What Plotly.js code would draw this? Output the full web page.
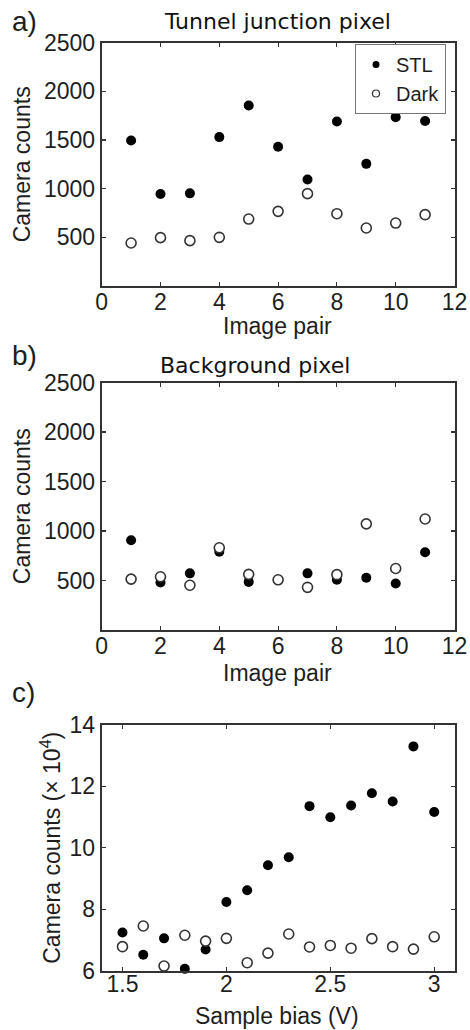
<!DOCTYPE html>
<html>
<head>
<meta charset="utf-8">
<script src="https://cdn.plot.ly/plotly-3.0.1.min.js"></script>
<style>html,body{margin:0;padding:0;background:#fff;}#chart{width:470px;height:1030px;}</style>
</head>
<body>
<div id="chart"></div>
<script>
// ---- data ----
const imagePair = [1, 2, 3, 4, 5, 6, 7, 8, 9, 10, 11];
const tunnelSTL  = [1495, 945, 952, 1530, 1855, 1430, 1095, 1690, 1255, 1735, 1695];
const tunnelDark = [442, 497, 466, 500, 688, 767, 949, 743, 596, 647, 733];
const backgroundSTL  = [907, 479, 572, 790, 486, 505, 572, 507, 528, 469, 786];
const backgroundDark = [514, 538, 452, 831, 562, 507, 431, 559, 1072, 621, 1121];
const sampleBias = [1.5, 1.6, 1.7, 1.8, 1.9, 2.0, 2.1, 2.2, 2.3, 2.4, 2.5, 2.6, 2.7, 2.8, 2.9, 3.0];
const biasSTL  = [7.25, 6.53, 7.06, 6.07, 6.70, 8.24, 8.62, 9.43, 9.69, 11.35, 10.99, 11.37, 11.77, 11.50, 13.29, 11.16];
const biasDark = [6.79, 7.46, 6.16, 7.16, 6.97, 7.06, 6.27, 6.58, 7.20, 6.78, 6.83, 6.74, 7.05, 6.79, 6.71, 7.11];
const countTicks = [500, 1000, 1500, 2000, 2500];
const biasTicks = [1.5, 2, 2.5, 3];
const seriesNames = ['STL', 'Dark'];

// ---- styles ----
const ink = '#1e1e1e';
const frame = '#333';
const sans = 'Liberation Sans, Arial, sans-serif';
const tickFont = {family: sans, size: 23, color: ink};
const titleFont = {family: sans, size: 23, color: ink};
const headFont = {family: 'DejaVu Sans, sans-serif', size: 22, color: '#111'};
const filled = {symbol: 'circle', size: 10, color: '#000', line: {width: 0}};
const hollow = {symbol: 'circle', size: 10, color: '#fff', line: {width: 1.6, color: '#333'}};
const filledKey = {symbol: 'circle', size: 7, color: '#000', line: {width: 0}};
const hollowKey = {symbol: 'circle', size: 7, color: '#fff', line: {width: 1.2, color: '#333'}};

function tr(x, y, mk, name, xa, ya) {
  return {type: 'scatter', mode: 'markers', x: x, y: y, marker: mk, name: name,
          xaxis: xa, yaxis: ya, showlegend: false, cliponaxis: false};
}
function key(mk, name) {
  return {type: 'scatter', mode: 'markers', x: [null], y: [null], marker: mk, name: name,
          xaxis: 'x', yaxis: 'y', showlegend: true};
}

const data = [
  tr(imagePair, tunnelSTL, filled, seriesNames[0], 'x', 'y'),
  tr(imagePair, tunnelDark, hollow, seriesNames[1], 'x', 'y'),
  tr(imagePair, backgroundSTL, filled, seriesNames[0], 'x2', 'y2'),
  tr(imagePair, backgroundDark, hollow, seriesNames[1], 'x2', 'y2'),
  tr(sampleBias, biasSTL, filled, seriesNames[0], 'x3', 'y3'),
  tr(sampleBias, biasDark, hollow, seriesNames[1], 'x3', 'y3'),
  key(filledKey, seriesNames[0]),
  key(hollowKey, seriesNames[1])
];

function ax(extra) {
  return Object.assign({
    showline: true, linecolor: frame, linewidth: 2, mirror: 'ticks',
    ticks: 'inside', ticklen: 4, tickwidth: 1.2, tickcolor: frame,
    showgrid: false, zeroline: false, tickfont: tickFont, fixedrange: true
  }, extra);
}

const W = 470, H = 1030;
const xd = [101.7 / W, 454.5 / W];
function yd(top, bottom) { return [1 - bottom / H, 1 - top / H]; }
function note(text, xpx, ypx, font, xanchor) {
  return {text: text, xref: 'paper', yref: 'paper', x: xpx / W, y: 1 - ypx / H,
          xanchor: xanchor || 'center', yanchor: 'middle', showarrow: false, font: font};
}

const layout = {
  width: W, height: H,
  margin: {l: 0, r: 0, t: 0, b: 0},
  paper_bgcolor: '#fff', plot_bgcolor: '#fff',
  showlegend: true,
  legend: {x: 446 / W, xanchor: 'right', y: 1 - 44 / H, yanchor: 'top',
           bgcolor: '#fff', bordercolor: '#777', borderwidth: 1,
           font: {family: sans, size: 20, color: ink},
           itemwidth: 30, tracegroupgap: 0},
  xaxis: ax({domain: xd, anchor: 'y', range: [0, 12], dtick: 2, tick0: 0, ticklabelstandoff: -6}),
  yaxis: ax({domain: yd(42.7, 286), anchor: 'x', range: [0, 2500], tickvals: countTicks,
             title: {text: 'Camera counts', font: titleFont, standoff: 7}}),
  xaxis2: ax({domain: xd, anchor: 'y2', range: [0, 12], dtick: 2, tick0: 0, ticklabelstandoff: -6}),
  yaxis2: ax({domain: yd(382.5, 630), anchor: 'x2', range: [0, 2500], tickvals: countTicks,
              title: {text: 'Camera counts', font: titleFont, standoff: 7}}),
  xaxis3: ax({domain: [101.7 / W, 455 / W], anchor: 'y3', range: [1.4, 3.1], tickvals: biasTicks,
              ticklabelstandoff: -9}),
  yaxis3: ax({domain: yd(724.5, 971), anchor: 'x3', range: [6, 14], dtick: 2, tick0: 6,
              title: {text: 'Camera counts (\u00d7 10<sup>4</sup>)', font: titleFont, standoff: 2}}),
  annotations: [
    note('Tunnel junction pixel', 277, 21, headFont),
    note('Background pixel', 255, 365, headFont),
    note('Image pair', 277, 326, titleFont),
    note('Image pair', 277, 673, titleFont),
    note('Sample bias (V)', 277, 1016, titleFont),
    note('a)', 10, 22, {family: sans, size: 28, color: ink}, 'left'),
    note('b)', 10, 355, {family: sans, size: 28, color: ink}, 'left'),
    note('c)', 10, 692, {family: sans, size: 28, color: ink}, 'left')
  ]
};

Plotly.newPlot('chart', data, layout, {displayModeBar: false, staticPlot: true});
</script>
</body>
</html>
